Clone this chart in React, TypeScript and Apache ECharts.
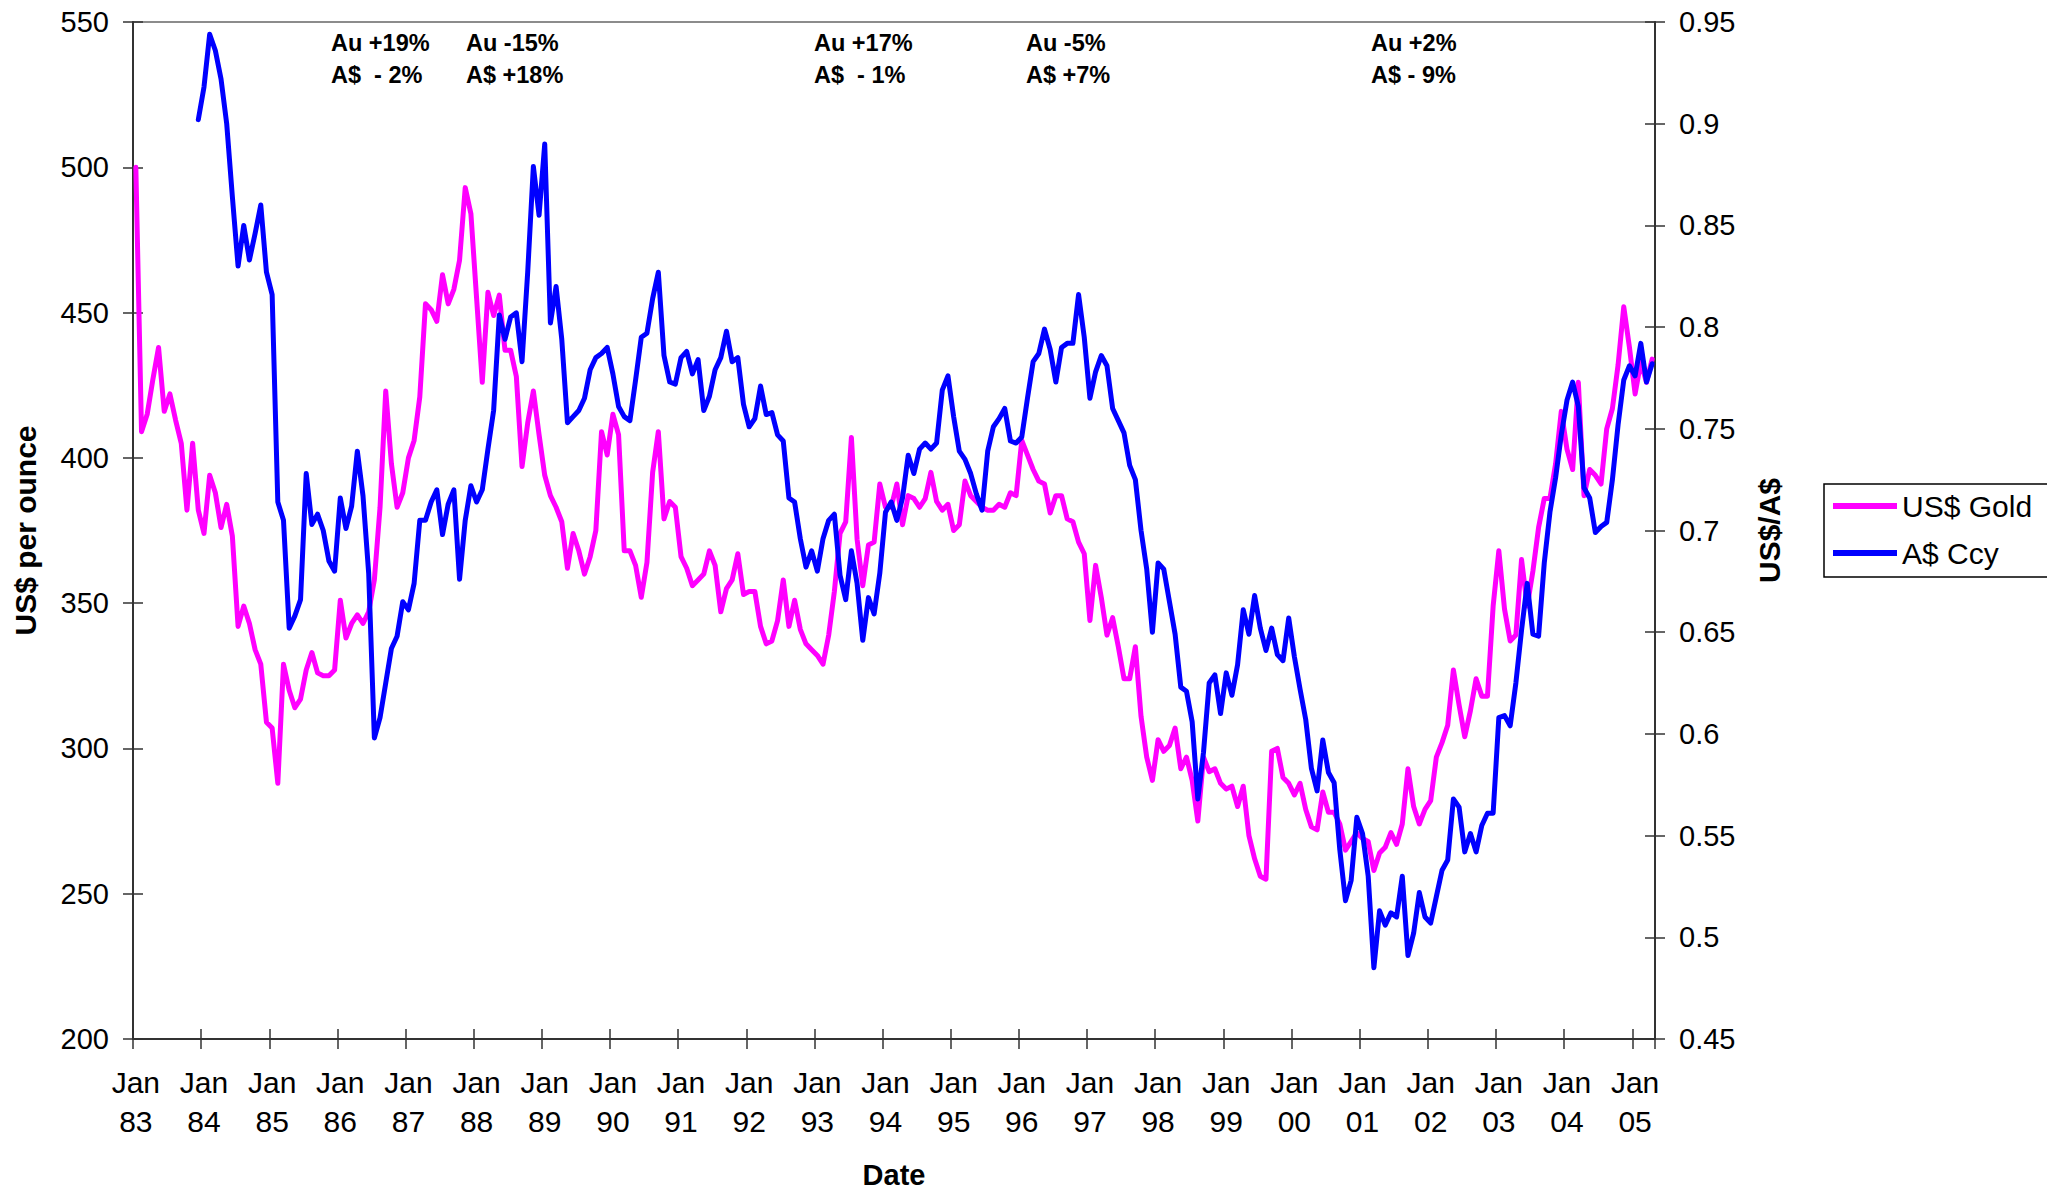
import React, { useEffect, useRef } from "react";
import * as echarts from "echarts";

const FONT = "'Liberation Sans', Arial, Helvetica, sans-serif";

const monthNames = ["Jan", "Feb", "Mar", "Apr", "May", "Jun", "Jul", "Aug", "Sep", "Oct", "Nov", "Dec"];
const yearLabels = ["83", "84", "85", "86", "87", "88", "89", "90", "91", "92", "93", "94", "95", "96", "97", "98", "99", "00", "01", "02", "03", "04", "05"];

// US$ gold price per ounce, monthly from Jan 83 to Apr 05
const goldUSD: number[] = [
  500, 409, 415, 427, 438, 416, 422, 413, 405, 382, 405, 382,
  374, 394, 388, 376, 384, 373, 342, 349, 343, 334, 329, 309,
  307, 288, 329, 320, 314, 317, 327, 333, 326, 325, 325, 327,
  351, 338, 343, 346, 343, 347, 358, 383, 423, 398, 383, 388,
  400, 406, 421, 453, 451, 447, 463, 453, 458, 468, 493, 484,
  455, 426, 457, 449, 456, 437, 437, 428, 397, 412, 423, 408,
  394, 387, 383, 378, 362, 374, 368, 360, 366, 375, 409, 401,
  415, 408, 368, 368, 363, 352, 364, 395, 409, 379, 385, 383,
  366, 362, 356, 358, 360, 368, 363, 347, 355, 358, 367, 353,
  354, 354, 342, 336, 337, 344, 358, 342, 351, 341, 336, 334,
  332, 329, 339, 354, 374, 378, 407, 372, 356, 370, 371, 391,
  383, 383, 391, 377, 387, 386, 383, 386, 395, 385, 382, 384,
  375, 377, 392, 387, 385, 383, 382, 382, 384, 383, 388, 387,
  406, 401, 396, 392, 391, 381, 387, 387, 379, 378, 371, 367,
  344, 363, 352, 339, 345, 335, 324, 324, 335, 311, 297, 289,
  303, 299, 301, 307, 293, 297, 289, 275, 297, 292, 293, 288,
  286, 287, 280, 287, 270, 262, 256, 255, 299, 300, 290, 288,
  284, 288, 279, 273, 272, 285, 278, 278, 274, 265, 268, 271,
  269, 268, 258, 264, 266, 271, 267, 274, 293, 280, 274, 279,
  282, 297, 302, 308, 327, 315, 304, 313, 324, 318, 318, 349,
  368, 348, 337, 339, 365, 349, 361, 376, 386, 386, 398, 416,
  403, 396, 426, 387, 396, 394, 391, 410, 417, 432, 452, 438,
  422, 433, 426, 434
];

// US$ per A$, monthly (series starts Dec 83)
const audUSD: (number | null)[] = [
  null, null, null, null, null, null, null, null, null, null, null, 0.902,
  0.918, 0.944, 0.936, 0.922, 0.900, 0.864, 0.830, 0.850, 0.833, 0.846, 0.860, 0.827,
  0.816, 0.714, 0.705, 0.652, 0.658, 0.666, 0.728, 0.703, 0.708, 0.700, 0.685, 0.680,
  0.716, 0.701, 0.712, 0.739, 0.717, 0.679, 0.598, 0.608, 0.625, 0.642, 0.648, 0.665,
  0.661, 0.674, 0.705, 0.705, 0.714, 0.720, 0.698, 0.713, 0.720, 0.676, 0.705, 0.722,
  0.714, 0.720, 0.740, 0.759, 0.806, 0.794, 0.805, 0.807, 0.783, 0.827, 0.879, 0.855,
  0.890, 0.802, 0.820, 0.794, 0.753, 0.756, 0.759, 0.765, 0.779, 0.785, 0.787, 0.790,
  0.777, 0.761, 0.756, 0.754, 0.774, 0.795, 0.797, 0.814, 0.827, 0.786, 0.773, 0.772,
  0.785, 0.788, 0.777, 0.784, 0.759, 0.766, 0.779, 0.785, 0.798, 0.783, 0.785, 0.762,
  0.751, 0.755, 0.771, 0.757, 0.758, 0.747, 0.744, 0.716, 0.714, 0.696, 0.682, 0.690,
  0.680, 0.696, 0.705, 0.708, 0.678, 0.666, 0.690, 0.674, 0.646, 0.667, 0.659, 0.679,
  0.709, 0.714, 0.705, 0.716, 0.737, 0.728, 0.740, 0.743, 0.740, 0.743, 0.769, 0.776,
  0.756, 0.739, 0.735, 0.728, 0.718, 0.710, 0.739, 0.751, 0.755, 0.760, 0.744, 0.743,
  0.746, 0.765, 0.783, 0.787, 0.799, 0.789, 0.773, 0.790, 0.792, 0.792, 0.816, 0.795,
  0.765, 0.778, 0.786, 0.781, 0.760, 0.754, 0.748, 0.732, 0.725, 0.700, 0.681, 0.650,
  0.684, 0.681, 0.665, 0.649, 0.623, 0.621, 0.606, 0.568, 0.591, 0.625, 0.629, 0.610,
  0.630, 0.619, 0.634, 0.661, 0.649, 0.668, 0.652, 0.641, 0.652, 0.639, 0.636, 0.657,
  0.638, 0.622, 0.607, 0.583, 0.572, 0.597, 0.581, 0.576, 0.543, 0.518, 0.528, 0.559,
  0.551, 0.530, 0.485, 0.513, 0.506, 0.512, 0.510, 0.530, 0.491, 0.502, 0.522, 0.510,
  0.507, 0.520, 0.533, 0.538, 0.568, 0.564, 0.542, 0.551, 0.542, 0.555, 0.561, 0.561,
  0.608, 0.609, 0.604, 0.625, 0.651, 0.674, 0.649, 0.648, 0.684, 0.709, 0.726, 0.747,
  0.764, 0.773, 0.761, 0.721, 0.716, 0.699, 0.702, 0.704, 0.725, 0.752, 0.774, 0.781,
  0.776, 0.792, 0.773, 0.782
];

const categories: string[] = goldUSD.map((_, i) => monthNames[i % 12] + " " + yearLabels[Math.floor(i / 12)]);

const annotationLines: string[][] = [
  ["Au +19%", "A$  - 2%"],
  ["Au -15%", "A$ +18%"],
  ["Au +17%", "A$  - 1%"],
  ["Au -5%", "A$ +7%"],
  ["Au +2%", "A$ - 9%"]
];
const annotationLeft: number[] = [331, 466, 814, 1026, 1371];

const seriesNames = ["US$ Gold", "A$ Ccy"];
const seriesColors = ["#ff00ff", "#0000ff"];

export default function App() {
  const ref = useRef<HTMLDivElement>(null);

  useEffect(() => {
    document.body.style.margin = "0";
    if (!ref.current) return;
    const chart = echarts.init(ref.current, undefined, { renderer: "svg" });

    const axisColor = "#333333";
    const tickStyle = { color: axisColor, width: 1.5 };
    const labelStyle = { fontSize: 29, color: "#000", fontFamily: FONT };
    const nameStyle = { fontSize: 30, fontWeight: "bold" as const, color: "#000", fontFamily: FONT };

    const option: any = {
      animation: false,
      backgroundColor: "#ffffff",
      textStyle: { fontFamily: FONT },
      grid: {
        left: 133,
        top: 22,
        width: 1522,
        height: 1017,
        show: true,
        borderColor: "#8c8c8c",
        borderWidth: 2,
        backgroundColor: "transparent",
        containLabel: false,
        outerBoundsMode: "none"
      },
      legend: {
        orient: "vertical",
        left: 1824,
        top: 484,
        itemWidth: 64,
        itemHeight: 6,
        itemGap: 17,
        icon: "rect",
        padding: [7, 40, 9, 9],
        borderColor: "#000",
        borderWidth: 1.5,
        selectedMode: false,
        textStyle: { fontSize: 30, color: "#000", fontFamily: FONT },
        data: seriesNames
      },
      xAxis: [
        {
          type: "category",
          data: categories,
          boundaryGap: true,
          position: "bottom",
          axisLine: { show: true, onZero: false, lineStyle: { color: axisColor, width: 2 } },
          axisTick: { show: true, interval: 11, length: 10, inside: false, lineStyle: tickStyle },
          axisLabel: {
            show: true,
            interval: 11,
            margin: 24,
            lineHeight: 39,
            ...labelStyle,
            fontSize: 30,
            formatter: (v: string) => v.replace(" ", "\n")
          },
          splitLine: { show: false },
          name: "Date",
          nameLocation: "middle",
          nameGap: 121,
          nameTextStyle: { ...nameStyle, fontSize: 29 }
        },
        {
          type: "category",
          data: categories,
          boundaryGap: true,
          position: "bottom",
          axisLine: { show: false, onZero: false },
          axisTick: { show: true, interval: 11, length: 10, inside: true, lineStyle: tickStyle },
          axisLabel: { show: false, interval: 11 },
          splitLine: { show: false }
        }
      ],
      yAxis: [
        {
          type: "value",
          position: "left",
          min: 200,
          max: 550,
          interval: 50,
          axisLine: { show: true, lineStyle: { color: axisColor, width: 2 } },
          axisTick: { show: true, length: 10, inside: false, lineStyle: tickStyle },
          axisLabel: { show: true, margin: 24, ...labelStyle },
          splitLine: { show: false },
          name: "US$ per ounce",
          nameLocation: "middle",
          nameRotate: 90,
          nameGap: 93,
          nameTextStyle: nameStyle
        },
        {
          type: "value",
          position: "right",
          min: 0.45,
          max: 0.95,
          interval: 0.05,
          axisLine: { show: true, lineStyle: { color: axisColor, width: 2 } },
          axisTick: { show: true, length: 10, inside: false, lineStyle: tickStyle },
          axisLabel: { show: true, margin: 24, ...labelStyle },
          splitLine: { show: false },
          name: "US$/A$",
          nameLocation: "middle",
          nameRotate: 90,
          nameGap: 99,
          nameTextStyle: nameStyle
        },
        {
          type: "value",
          position: "left",
          min: 200,
          max: 550,
          interval: 50,
          axisLine: { show: false },
          axisTick: { show: true, length: 10, inside: true, lineStyle: tickStyle },
          axisLabel: { show: false },
          splitLine: { show: false }
        },
        {
          type: "value",
          position: "right",
          min: 0.45,
          max: 0.95,
          interval: 0.05,
          axisLine: { show: false },
          axisTick: { show: true, length: 10, inside: true, lineStyle: tickStyle },
          axisLabel: { show: false },
          splitLine: { show: false }
        }
      ],
      series: [
        {
          name: seriesNames[0],
          type: "line",
          data: goldUSD,
          xAxisIndex: 0,
          yAxisIndex: 0,
          showSymbol: false,
          symbol: "none",
          lineStyle: { color: seriesColors[0], width: 5, join: "round", cap: "round" },
          itemStyle: { color: seriesColors[0] },
          z: 3
        },
        {
          name: seriesNames[1],
          type: "line",
          data: audUSD,
          xAxisIndex: 0,
          yAxisIndex: 1,
          showSymbol: false,
          symbol: "none",
          connectNulls: false,
          lineStyle: { color: seriesColors[1], width: 5, join: "round", cap: "round" },
          itemStyle: { color: seriesColors[1] },
          z: 4
        }
      ],
      graphic: annotationLines.map((lines, i) => ({
        type: "text",
        x: annotationLeft[i],
        y: 27.5,
        z: 100,
        style: {
          text: lines.join("\n"),
          font: "bold 23.5px " + FONT,
          fill: "#000",
          lineHeight: 31.5,
          align: "left",
          verticalAlign: "top"
        }
      }))
    };

    chart.setOption(option);
    return () => {
      chart.dispose();
    };
  }, []);

  return (
    <div
      ref={ref}
      style={{ position: "absolute", left: 0, top: 0, width: 2047, height: 1191, background: "#fff" }}
    />
  );
}
